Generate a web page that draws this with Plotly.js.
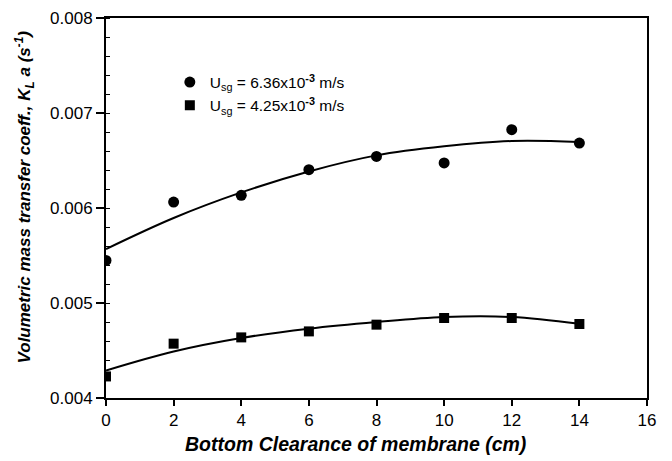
<!DOCTYPE html>
<html>
<head>
<meta charset="utf-8">
<script src="https://cdn.plot.ly/plotly-3.0.1.min.js"></script>
<style>html,body{margin:0;padding:0;background:#fff;}#chart{width:672px;height:461px;}</style>
</head>
<body>
<div id="chart"></div>
<script>
// Bottom clearance (cm)
const clearance = [0, 2, 4, 6, 8, 10, 12, 14];
// Measured KLa (s^-1)
const kla_high = [0.005448, 0.006063, 0.006133, 0.006403, 0.006543, 0.006474, 0.006824, 0.006684];
const kla_low  = [0.004227, 0.004572, 0.004638, 0.004701, 0.004772, 0.004842, 0.004842, 0.004779];
// Fitted curves
const fit_high = [0.005568, 0.005895, 0.006164, 0.006385, 0.006554, 0.006649, 0.006705, 0.006695];
const fit_low  = [0.004290, 0.004490, 0.004632, 0.004730, 0.004800, 0.004853, 0.004853, 0.004782];
const legendNames = ['U<sub>sg</sub> = 6.36x10<sup><b>-3</b></sup> m/s', 'U<sub>sg</sub> = 4.25x10<sup><b>-3</b></sup> m/s'];
const xTitle = '<b><i>Bottom Clearance of membrane (cm)</i></b>';
const yTitle = '<b><i>Volumetric mass transfer coeff., K<sub>L</sub> a (s<sup>-1</sup>)</i></b>';

const FONT = 'Arial, "Liberation Sans", sans-serif';

const traces = [
  {x: clearance, y: fit_high, mode: 'lines', line: {color: '#000', width: 2, shape: 'spline', smoothing: 1}, showlegend: false, hoverinfo: 'skip'},
  {x: clearance, y: fit_low, mode: 'lines', line: {color: '#000', width: 2, shape: 'spline', smoothing: 1}, showlegend: false, hoverinfo: 'skip'},
  {x: clearance, y: kla_high, mode: 'markers', name: legendNames[0], marker: {symbol: 'circle', size: 11, color: '#000'}},
  {x: clearance, y: kla_low, mode: 'markers', name: legendNames[1], marker: {symbol: 'square', size: 10, color: '#000'}}
];

const layout = {
  width: 672, height: 461,
  margin: {l: 106, r: 25, t: 18, b: 63},
  paper_bgcolor: '#fff', plot_bgcolor: '#fff',
  font: {family: FONT, color: '#000', size: 17},
  showlegend: true,
  legend: {x: 0.118, y: 0.875, xanchor: 'left', yanchor: 'top', bgcolor: 'rgba(0,0,0,0)', font: {family: FONT, size: 15.5, color: '#000'}, tracegroupgap: 0},
  xaxis: {
    range: [0, 16], dtick: 2, tick0: 0,
    showgrid: false, zeroline: false,
    showline: true, linecolor: '#000', linewidth: 2, mirror: true,
    ticks: 'outside', ticklen: 6, tickwidth: 2, tickcolor: '#000',
    tickfont: {family: FONT, size: 17, color: '#000'}
  },
  yaxis: {
    range: [0.004, 0.008], dtick: 0.001, tick0: 0.004, tickformat: '.3f',
    showgrid: false, zeroline: false,
    showline: true, linecolor: '#000', linewidth: 2, mirror: true,
    ticks: 'outside', ticklen: 8, tickwidth: 2, tickcolor: '#000',
    tickfont: {family: FONT, size: 17, color: '#000'},
    minor: {dtick: 0.0002, ticks: 'inside', ticklen: 4, tickwidth: 1, tickcolor: '#000', showgrid: false}
  },
  annotations: [
    {text: xTitle, xref: 'paper', yref: 'paper', x: 0.462, y: -0.12, xanchor: 'center', yanchor: 'middle', showarrow: false, font: {family: FONT, size: 19.5, color: '#000'}},
    {text: yTitle, xref: 'paper', yref: 'paper', x: -0.15, y: 0.53, xanchor: 'center', yanchor: 'middle', textangle: -90, showarrow: false, font: {family: FONT, size: 17, color: '#000'}}
  ]
};

Plotly.newPlot('chart', traces, layout, {displayModeBar: false, staticPlot: true});
</script>
</body>
</html>
